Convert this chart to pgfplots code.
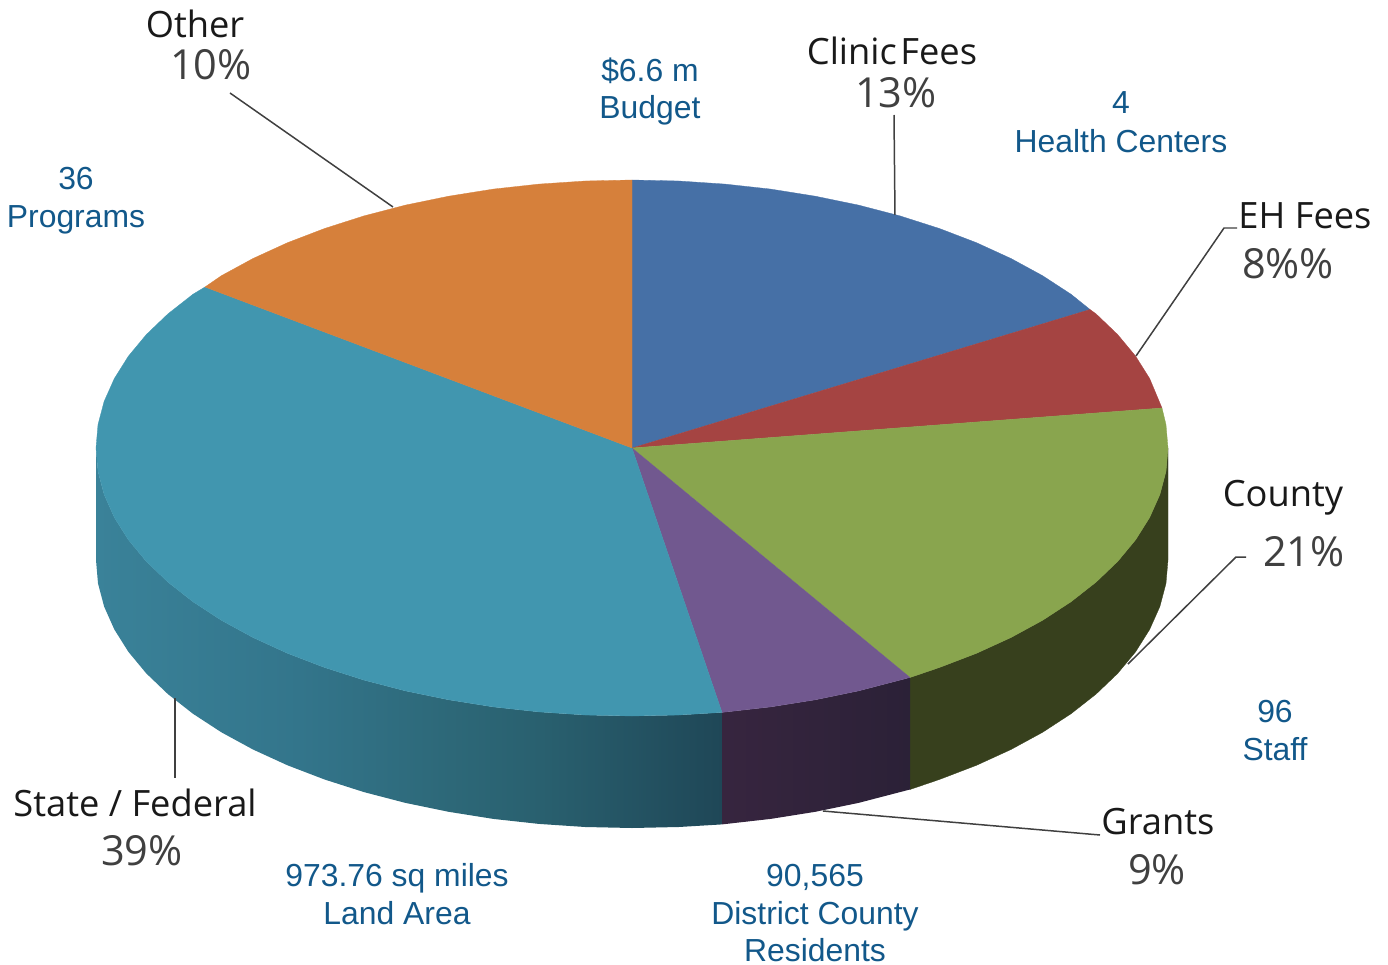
\documentclass[border=0pt]{standalone}
\usepackage{fontspec}
\setmainfont{Liberation Sans}
\newfontfamily\lab{Open Sans}
\usepackage{pgfplots}
\pgfplotsset{compat=1.18}
\definecolor{cblue}{HTML}{4670A6}
\definecolor{cred}{HTML}{A54442}
\definecolor{cgreen}{HTML}{89A54E}
\definecolor{cpurple}{HTML}{71588F}
\definecolor{cteal}{HTML}{4196AF}
\definecolor{corange}{HTML}{D6803B}
\definecolor{gside}{HTML}{37401D}
\definecolor{tealA}{HTML}{3A8299}
\definecolor{tealB}{HTML}{33758B}
\definecolor{tealC}{HTML}{2D6878}
\definecolor{tealD}{HTML}{29606F}
\definecolor{tealE}{HTML}{1F4757}
\definecolor{purpA}{HTML}{37253F}
\definecolor{purpB}{HTML}{2B2137}
\definecolor{bluetxt}{HTML}{12588A}
\definecolor{leader}{HTML}{404040}
\pgfdeclarehorizontalshading{tealside}{100bp}{
 color(0bp)=(tealA); color(25bp)=(tealA); color(41.3bp)=(tealB);
 color(53.3bp)=(tealC); color(60.5bp)=(tealD); color(75bp)=(tealE); color(100bp)=(tealE)}
\newcommand{\bt}[3]{\node[anchor=base,inner sep=0pt,text=bluetxt,font=\fontsize{32}{33}\selectfont] at (axis cs:#1,#2) {#3};}
\newcommand{\nm}[3]{\node[anchor=base,inner sep=0pt,text=black!90,font=\lab\fontsize{36.4}{37}\selectfont] at (axis cs:#1,#2) {#3};}
\newcommand{\pc}[3]{\node[anchor=base,inner sep=0pt,text=black!75,font=\lab\fontsize{41.6}{42}\selectfont] at (axis cs:#1,#2) {#3};}
\begin{document}
\begin{tikzpicture}
\path (0,0) rectangle (1388bp,965bp);
\begin{axis}[at={(0,0)},anchor=south west,scale only axis,width=1388bp,height=965bp,
  xmin=0,xmax=1388,ymin=0,ymax=965,y dir=reverse,hide axis,clip=false]
% side walls
\addplot[draw=gside,line width=0.3pt,fill=gside] coordinates {(1168,448)(1166,471.4)(1159.9,494.5)(1149.7,517.4)(1135.7,539.7)(1117.8,561.3)(1096.2,582)(1071.1,601.7)(1042.6,620.3)(1011,637.5)(976.5,653.3)(939.4,667.5)(910,677.5)
 (910,789.5)(939.4,779.5)(976.5,765.3)(1011,749.5)(1042.6,732.3)(1071.1,713.7)(1096.2,694)(1117.8,673.3)(1135.7,651.7)(1149.7,629.4)(1159.9,606.5)(1166,583.4)(1168,560)} --cycle;
\addplot[draw=none,left color=purpA,right color=purpB] coordinates {(722,712.4)(770.7,706.9)(815.3,699.8)(858.5,690.9)(900,680.1)(910,677.5)
 (910,789.5)(900,792.1)(858.5,802.9)(815.3,811.8)(770.7,818.9)(722,824.4)} --cycle;
\addplot[draw=none,shading=tealside] coordinates {(96,448)(98,471.4)(104.1,494.5)(114.3,517.4)(128.3,539.7)(146.2,561.3)(167.8,582)(192.9,601.7)(221.4,620.3)(253,637.5)(287.5,653.3)(324.6,667.5)(364,680.1)(405.5,690.9)(448.7,699.8)(493.3,706.9)(538.9,711.9)(585.3,715)(632,716)(678.7,715)(722,712.4)
 (722,824.4)(678.7,827)(632,828)(585.3,827)(538.9,823.9)(493.3,818.9)(448.7,811.8)(405.5,802.9)(364,792.1)(324.6,779.5)(287.5,765.3)(253,749.5)(221.4,732.3)(192.9,713.7)(167.8,694)(146.2,673.3)(128.3,651.7)(114.3,629.4)(104.1,606.5)(98,583.4)(96,560)} --cycle;
% top slices
\addplot[draw=cblue,line width=0.3pt,fill=cblue] coordinates {(632,448)(632,180)(678.7,181)(725.1,184.1)(770.7,189.1)(815.3,196.2)(858.5,205.1)(900,215.9)(939.4,228.5)(976.5,242.7)(1011,258.5)(1042.6,275.7)(1071.1,294.3)(1090,309.5)} --cycle;
\addplot[draw=cred,line width=0.3pt,fill=cred] coordinates {(632,448)(1090,309.5)(1096.2,314)(1117.8,334.7)(1135.7,356.3)(1149.7,378.6)(1162,408)} --cycle;
\addplot[draw=cgreen,line width=0.3pt,fill=cgreen] coordinates {(632,448)(1162,408)(1166,424.6)(1168,448)(1166,471.4)(1159.9,494.5)(1149.7,517.4)(1135.7,539.7)(1117.8,561.3)(1096.2,582)(1071.1,601.7)(1042.6,620.3)(1011,637.5)(976.5,653.3)(939.4,667.5)(910,677.5)} --cycle;
\addplot[draw=cpurple,line width=0.3pt,fill=cpurple] coordinates {(632,448)(910,677.5)(900,680.1)(858.5,690.9)(815.3,699.8)(770.7,706.9)(722,712.4)} --cycle;
\addplot[draw=cteal,line width=0.3pt,fill=cteal] coordinates {(632,448)(722,712.4)(678.7,715)(632,716)(585.3,715)(538.9,711.9)(493.3,706.9)(448.7,699.8)(405.5,690.9)(364,680.1)(324.6,667.5)(287.5,653.3)(253,637.5)(221.4,620.3)(192.9,601.7)(167.8,582)(146.2,561.3)(128.3,539.7)(114.3,517.4)(104.1,494.5)(98,471.4)(96,448)(98,424.6)(104.1,401.5)(114.3,378.6)(128.3,356.3)(146.2,334.7)(167.8,314)(192.9,294.3)(205,287)} --cycle;
\addplot[draw=corange,line width=0.3pt,fill=corange] coordinates {(632,448)(205,287)(221.4,275.7)(253,258.5)(287.5,242.7)(324.6,228.5)(364,215.9)(405.5,205.1)(448.7,196.2)(493.3,189.1)(538.9,184.1)(585.3,181)(632,180)} --cycle;
% leader lines
\addplot[leader,line width=1.5pt] coordinates {(230,93)(393,207)};
\addplot[leader,line width=1.5pt] coordinates {(894,115)(895,215)};
\addplot[leader,line width=1.5pt] coordinates {(1237,228)(1224,228)(1136,356)};
\addplot[leader,line width=1.5pt] coordinates {(1246,557)(1236,557)(1128,664)};
\addplot[leader,line width=1.5pt] coordinates {(1100,835)(823,811)};
\addplot[leader,line width=1.5pt] coordinates {(175,698)(175,778)};
% labels
\bt{650}{82}{\$6.6 m}
\bt{650}{119}{Budget}
\bt{1121}{114}{4}
\bt{1121}{153}{Health Centers}
\bt{76}{190}{36}
\bt{76}{227}{Programs}
\bt{1275}{722}{96}
\bt{1275}{760}{Staff}
\bt{397}{886}{973.76 sq miles}
\bt{397}{924}{Land Area}
\bt{815}{886}{90,565}
\bt{815}{924}{District County}
\bt{815}{961}{Residents}
\nm{195}{38}{Other}
\pc{211}{80}{10\%}
\nm{892}{65}{Clinic\hspace{0.1em}Fees}
\pc{896}{108}{13\%}
\nm{1305}{228}{EH Fees}
\pc{1288}{278}{8\%\%}
\nm{1283}{506}{County}
\pc{1304}{566}{21\%}
\nm{1158}{834}{Grants}
\pc{1157}{884}{9\%}
\nm{135}{816}{State / Federal}
\pc{142}{865}{39\%}
\end{axis}
\end{tikzpicture}
\end{document}
